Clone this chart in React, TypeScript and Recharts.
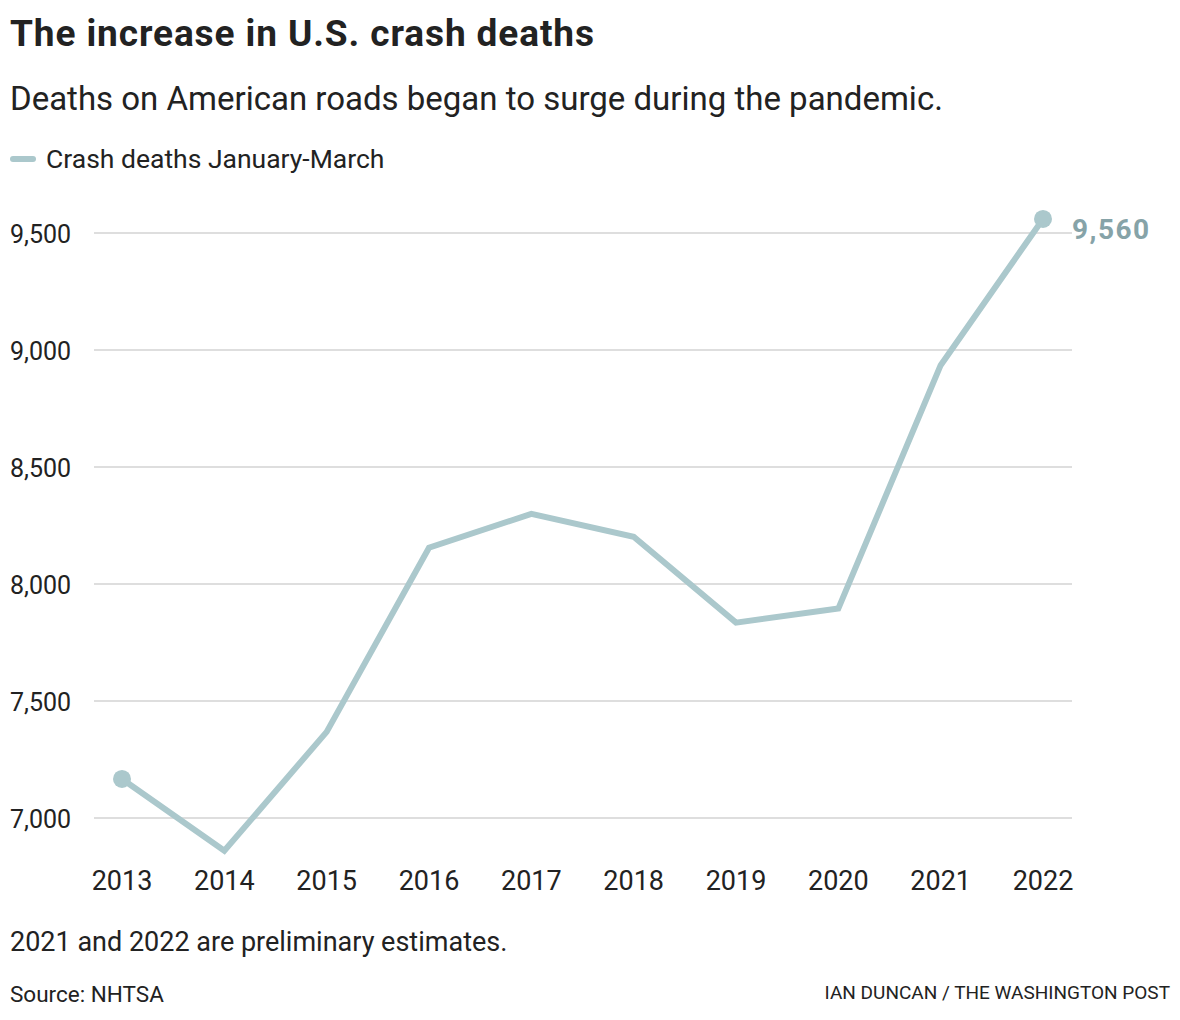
import { LineChart, Line, XAxis, YAxis, CartesianGrid, LabelList } from 'recharts'

const years = ['2013', '2014', '2015', '2016', '2017', '2018', '2019', '2020', '2021', '2022']
const deaths = [7167, 6860, 7368, 8155, 8300, 8202, 7835, 7895, 8935, 9560]
const yTicks = [7000, 7500, 8000, 8500, 9000, 9500]

const data = years.map((year, i) => ({ year, deaths: deaths[i] }))
const lastIndex = data.length - 1

const LINE = '#abc8cc'
const LABEL = '#86a3a8'
const TEXT = '#222'
const FONT = 'Roboto, "Noto Sans", sans-serif'

const fmt = (v: number) => v.toLocaleString('en-US')

function YTick(props: any) {
  const { y, payload } = props
  return (
    <text x={2} y={y + 10} textAnchor="start" fontSize={25} fill={TEXT} fontFamily={FONT}>
      {fmt(payload.value)}
    </text>
  )
}

function XTick(props: any) {
  const { x, y, payload } = props
  return (
    <text x={x} y={y + 25} textAnchor="middle" fontSize={27} fill={TEXT} fontFamily={FONT}>
      {payload.value}
    </text>
  )
}

function EndDot(props: any) {
  const { cx, cy, index } = props
  if (index !== 0 && index !== lastIndex) return <g key={`d${index}`} />
  return <circle key={`d${index}`} cx={cx} cy={cy} r={9} fill={LINE} />
}

function EndLabel(props: any) {
  const { x, y, index, value } = props
  if (index !== lastIndex) return null
  return (
    <text x={x + 29} y={y + 20} fontSize={28} fontWeight={700} fill={LABEL} fontFamily={FONT} letterSpacing={1.5}>
      {fmt(value)}
    </text>
  )
}

const abs = (top: number, left: number | undefined, size: number, extra: any = {}) => ({
  position: 'absolute' as const,
  top,
  left,
  fontSize: size,
  lineHeight: `${size}px`,
  fontFamily: FONT,
  color: TEXT,
  whiteSpace: 'nowrap' as const,
  margin: 0,
  ...extra,
})

export default function App() {
  return (
    <div style={{ position: 'relative', width: 1164, height: 1004, background: '#fff' }}>
      <LineChart
        width={1164}
        height={900}
        data={data}
        margin={{ top: 201.6, right: 100, bottom: 0, left: 0 }}
        style={{ position: 'absolute', top: 0, left: 0 }}
      >
        <CartesianGrid vertical={false} horizontalValues={yTicks} stroke="#dedede" strokeWidth={2} />
        <XAxis
          dataKey="year"
          axisLine={false}
          tickLine={false}
          tickSize={0}
          tickMargin={0}
          height={43.2}
          padding={{ left: 28, right: 29 }}
          interval={0}
          tick={<XTick />}
        />
        <YAxis
          type="number"
          domain={[6800, 9600]}
          ticks={yTicks}
          axisLine={false}
          tickLine={false}
          tickSize={0}
          tickMargin={0}
          width={86}
          tick={<YTick />}
        />
        <Line
          type="linear"
          dataKey="deaths"
          stroke={LINE}
          strokeWidth={6}
          dot={<EndDot />}
          activeDot={false}
          isAnimationActive={false}
        >
          <LabelList dataKey="deaths" content={<EndLabel />} />
        </Line>
      </LineChart>

      <div style={abs(6.9, 2, 37, { fontWeight: 700, letterSpacing: 0.9 })}>The increase in U.S. crash deaths</div>
      <div style={abs(74.2, 2, 33)}>Deaths on American roads began to surge during the pandemic.</div>
      <div
        style={{
          position: 'absolute',
          top: 148,
          left: 2,
          width: 26,
          height: 6,
          borderRadius: 3,
          background: LINE,
        }}
      />
      <div style={abs(137.7, 38, 26.5)}>Crash deaths January-March</div>
      <div style={abs(921.3, 2, 27)}>2021 and 2022 are preliminary estimates.</div>
      <div style={abs(974.8, 2, 22.5)}>Source: NHTSA</div>
      <div style={abs(975, undefined, 19, { right: 2 })}>IAN DUNCAN / THE WASHINGTON POST</div>
    </div>
  )
}
